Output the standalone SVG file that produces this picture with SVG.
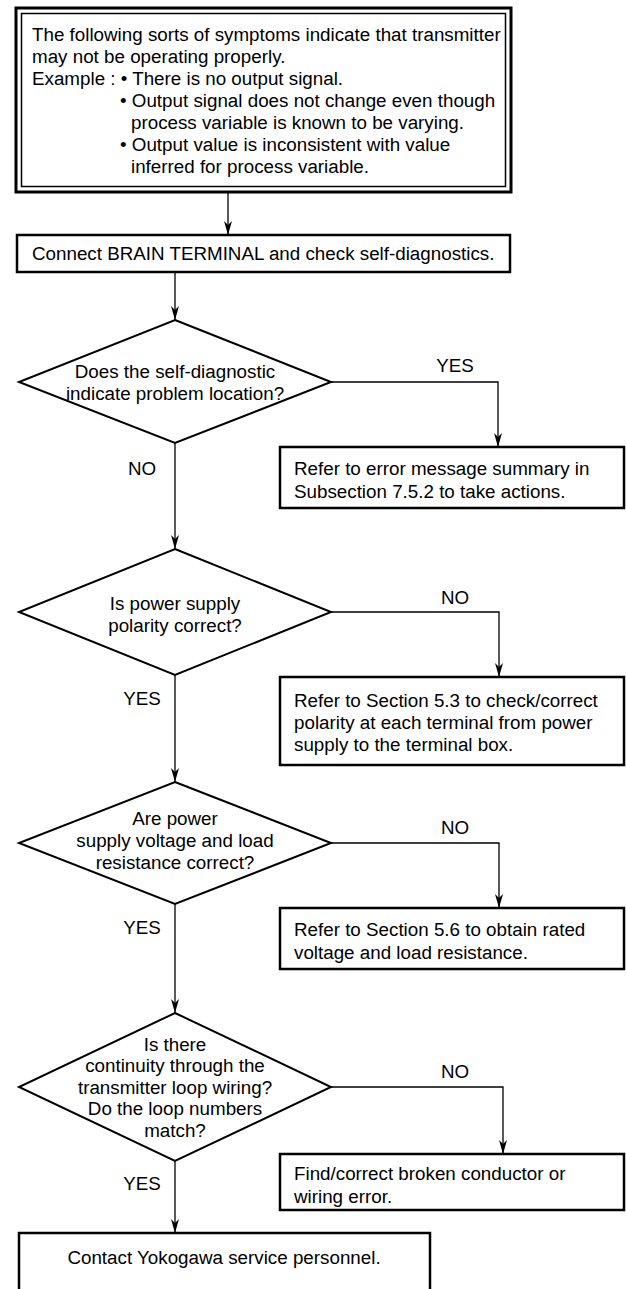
<svg xmlns="http://www.w3.org/2000/svg" width="626" height="1289" viewBox="0 0 626 1289">
<style>
text{font-family:"Liberation Sans",Arial,Helvetica,sans-serif;font-size:18.8px;fill:#000}
.c{text-anchor:middle}
.box{fill:#fff;stroke:#000;stroke-width:2.5}
.dia{fill:#fff;stroke:#000;stroke-width:2}
.ln{fill:none;stroke:#000;stroke-width:1.3}
</style>
<defs>
<marker id="ah" viewBox="0 0 14 8" refX="14" refY="4" markerWidth="14" markerHeight="8" markerUnits="userSpaceOnUse" orient="auto">
<path d="M0,0 L14,4 L0,8 L4,4 z" fill="#000"/>
</marker>
</defs>
<rect width="626" height="1289" fill="#fff"/>
<g id="connectors">
<path class="ln" marker-end="url(#ah)" d="M228,193 V235"/>
<path class="ln" marker-end="url(#ah)" d="M175,272 V320"/>
<path class="ln" marker-end="url(#ah)" d="M331,382 H498 V447"/>
<path class="ln" marker-end="url(#ah)" d="M175,443 V549"/>
<path class="ln" marker-end="url(#ah)" d="M331,612 H499 V677"/>
<path class="ln" marker-end="url(#ah)" d="M175,675 V782"/>
<path class="ln" marker-end="url(#ah)" d="M331,843 H499 V908"/>
<path class="ln" marker-end="url(#ah)" d="M175,904 V1013"/>
<path class="ln" marker-end="url(#ah)" d="M331,1087 H503 V1154"/>
<path class="ln" marker-end="url(#ah)" d="M175,1161 V1233"/>
</g>
<g id="labels">
<text class="c" x="455" y="371.5">YES</text>
<text class="c" x="142" y="474.5">NO</text>
<text class="c" x="455" y="603.5">NO</text>
<text class="c" x="142" y="704.5">YES</text>
<text class="c" x="455" y="833.5">NO</text>
<text class="c" x="142" y="933.5">YES</text>
<text class="c" x="455" y="1077.5">NO</text>
<text class="c" x="142" y="1189.5">YES</text>
</g>
<g id="symptoms">
<rect x="16" y="8" width="495" height="184" fill="#fff" stroke="#000" stroke-width="3"/>
<rect x="21.5" y="13.5" width="484" height="173" fill="none" stroke="#000" stroke-width="1.5"/>
<text x="32" y="41">The following sorts of symptoms indicate that transmitter</text>
<text x="32" y="63">may not be operating properly.</text>
<text x="32" y="85">Example : • There is no output signal.</text>
<text x="120" y="107">• Output signal does not change even though</text>
<text x="131" y="129">process variable is known to be varying.</text>
<text x="120" y="151">• Output value is inconsistent with value</text>
<text x="131" y="173">inferred for process variable.</text>
</g>
<g id="connect">
<rect class="box" x="17" y="235" width="493" height="37"/>
<text x="32" y="260">Connect BRAIN TERMINAL and check self-diagnostics.</text>
</g>
<g id="d1">
<polygon class="dia" points="175,320 331,382 175,443 19,382"/>
<text class="c" x="175" y="377.5">Does the self-diagnostic</text>
<text class="c" x="175" y="399.5">indicate problem location?</text>
</g>
<g id="b1">
<rect class="box" x="280" y="447" width="344" height="61"/>
<text x="294" y="475">Refer to error message summary in</text>
<text x="294" y="498">Subsection 7.5.2 to take actions.</text>
</g>
<g id="d2">
<polygon class="dia" points="175,549 331,612 175,675 19,612"/>
<text class="c" x="175" y="609.5">Is power supply</text>
<text class="c" x="175" y="631.5">polarity correct?</text>
</g>
<g id="b2">
<rect class="box" x="280" y="677" width="344" height="88"/>
<text x="294" y="706.5">Refer to Section 5.3 to check/correct</text>
<text x="294" y="728.5">polarity at each terminal from power</text>
<text x="294" y="750.5">supply to the terminal box.</text>
</g>
<g id="d3">
<polygon class="dia" points="175,782 331,843 175,904 19,843"/>
<text class="c" x="175" y="824.5">Are power</text>
<text class="c" x="175" y="846.5">supply voltage and load</text>
<text class="c" x="175" y="868.5">resistance correct?</text>
</g>
<g id="b3">
<rect class="box" x="280" y="908" width="344" height="61"/>
<text x="294" y="935.5">Refer to Section 5.6 to obtain rated</text>
<text x="294" y="958.5">voltage and load resistance.</text>
</g>
<g id="d4">
<polygon class="dia" points="175,1013 331,1087 175,1161 19,1087"/>
<text class="c" x="175" y="1050.5">Is there</text>
<text class="c" x="175" y="1071.5">continuity through the</text>
<text class="c" x="175" y="1093.5">transmitter loop wiring?</text>
<text class="c" x="175" y="1114.5">Do the loop numbers</text>
<text class="c" x="175" y="1136.5">match?</text>
</g>
<g id="b4">
<rect class="box" x="280" y="1154" width="344" height="56"/>
<text x="294" y="1179.5">Find/correct broken conductor or</text>
<text x="294" y="1202.5">wiring error.</text>
</g>
<g id="contact">
<rect class="box" x="19" y="1233" width="411" height="70"/>
<text class="c" x="224" y="1264">Contact Yokogawa service personnel.</text>
</g>
</svg>
